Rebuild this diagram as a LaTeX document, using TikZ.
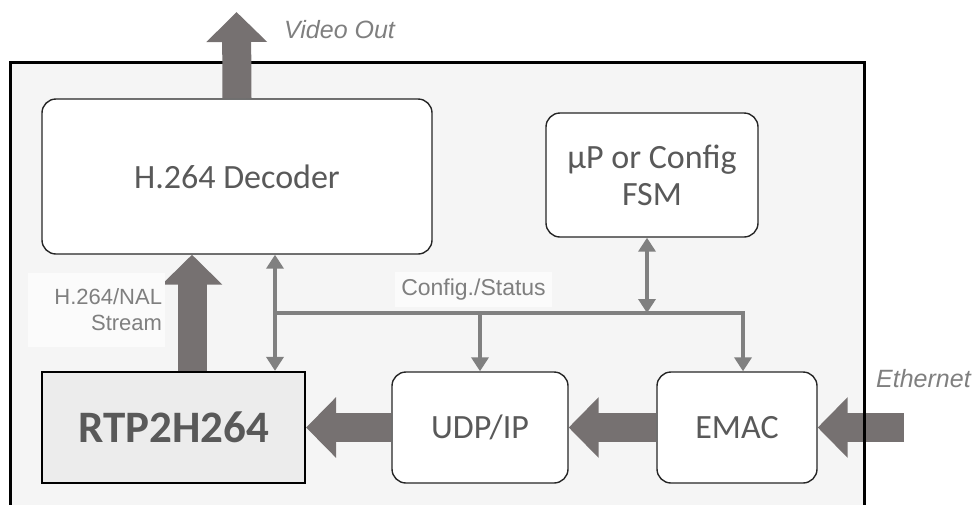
\documentclass[tikz,border=0pt]{standalone}
\usepackage{fontspec}
\setmainfont{Carlito}
\newfontfamily\labelfont{Liberation Sans}
\usetikzlibrary{arrows.meta}
\definecolor{txtgray}{HTML}{595959}
\definecolor{arrgray}{HTML}{767171}
\definecolor{busgray}{HTML}{808080}
\definecolor{lblgray}{HTML}{7F7F7F}
\definecolor{framefill}{HTML}{F5F5F5}
\definecolor{rtpfill}{HTML}{ECECEC}
\definecolor{lblfill}{HTML}{FBFBFB}
\begin{document}
\begin{tikzpicture}[x=1pt,y=-1pt,
  block/.style={draw=black!85, line width=1.4pt, fill=white, rounded corners=14pt,
    text=txtgray, font=\fontsize{34}{37}\selectfont, align=center, inner sep=0pt},
  rtpbox/.style={draw=black, line width=2.2pt, fill=rtpfill, text=txtgray,
    font=\fontsize{45}{50}\selectfont\bfseries, inner sep=0pt},
  bigarrow/.style={draw=arrgray, line width=29pt, -{Triangle[length=30pt,width=59pt]}},
  busline/.style={draw=busgray, line width=4pt, line join=miter},
  bustip/.style={-{Triangle[length=14pt,width=17pt]}},
  busboth/.style={{Triangle[length=14pt,width=17pt]}-{Triangle[length=14pt,width=17pt]}},
  lbl/.style={text=lblgray, font=\labelfont\fontsize{22}{26}\selectfont, inner sep=0pt},
  ilbl/.style={text=lblgray, font=\labelfont\itshape\fontsize{25}{29}\selectfont, inner sep=0pt}
]
\useasboundingbox (0,0) rectangle (977,504);
% frame fill
\fill[framefill] (10,62) rectangle (864,520);
% ethernet arrow (under the frame border)
\node[block, minimum width=160pt, minimum height=111pt] (emac) at (737,427.5) {EMAC};
\coordinate (eth) at (904,427.5);
\draw[bigarrow] (eth) -- (emac.east);
\draw[line width=3pt] (10,520) -- (10,62) -- (864,62) -- (864,520);
% blocks
\node[block, minimum width=390pt, minimum height=155pt] (dec) at (237,176.5) {H.264 Decoder};
\node[block, minimum width=212pt, minimum height=124pt] (up) at (652,175) {µP or Config\\FSM};
\node[rtpbox, minimum width=263pt, minimum height=111pt] (rtp) at (173.5,427.5) {RTP2H264};
\node[block, minimum width=176pt, minimum height=111pt] (udp) at (480,427.5) {UDP/IP};
% thick data arrows
\coordinate (vout) at (236.5,12);
\draw[bigarrow] (dec.north) -- (vout);
\coordinate (nalx) at (192,0);
\draw[bigarrow] (rtp.north -| nalx) -- (dec.south -| nalx);
\draw[bigarrow] (udp.west) -- (rtp.east);
\draw[bigarrow] (emac.west) -- (udp.east);
% config / status bus
\coordinate (bl) at (275,313);
\coordinate (br) at (743,313);
\coordinate (upx) at (647,0);
\draw[busline, busboth] (dec.south -| bl) -- (rtp.north -| bl);
\draw[busline, bustip] (bl) -- (br) -- (emac.north -| br);
\draw[busline, bustip] (bl -| udp.north) -- (udp.north);
\draw[busline, busboth] (up.south -| upx) -- (bl -| upx);
% labels
\node[lbl, font=\labelfont\fontsize{23}{26}\selectfont, fill=lblfill, minimum width=157pt, minimum height=35pt] (cs) at (473.5,289.5) {Config./Status};
\node[lbl, fill=lblfill, text width=131pt, align=right, inner xsep=3pt, minimum height=74pt] (nal) at (96.5,310) {H.264/NAL\\Stream};
\node[ilbl, anchor=west] (vo) at (284,30) {Video Out};
\node[ilbl, anchor=west] (et) at (876,379) {Ethernet};
\end{tikzpicture}
\end{document}
